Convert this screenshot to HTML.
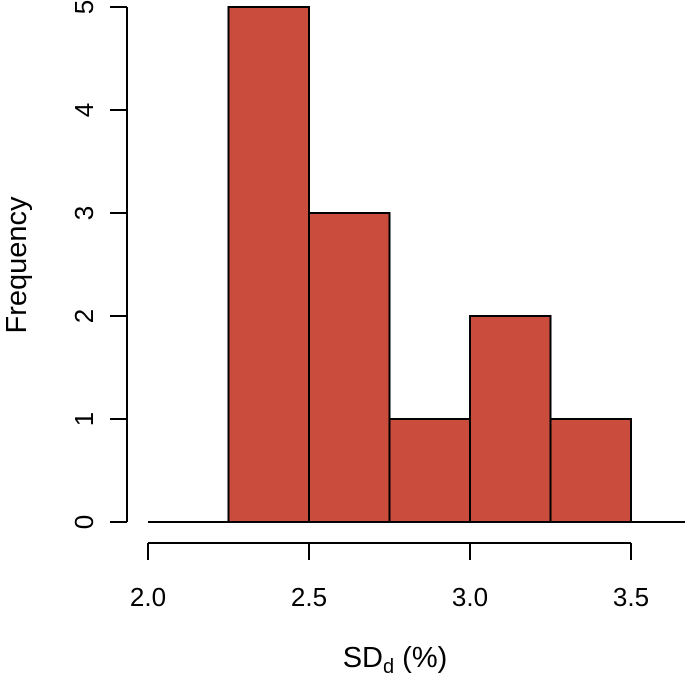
<!DOCTYPE html>
<html><head><meta charset="utf-8"><style>
html,body{margin:0;padding:0;background:#fff;}
svg{display:block;font-family:"Liberation Sans",Arial,sans-serif;}
</style></head><body>
<svg id="chart" width="685" height="674" viewBox="0 0 685 674">
<g id="bars"></g>
<line x1="148" y1="522" x2="685" y2="522" stroke="#000" stroke-width="2"/>
<g id="yaxis"></g>
<g id="xaxis"></g>
<text transform="translate(26,265) rotate(-90)" text-anchor="middle" font-size="29">Frequency</text>
<text x="395" y="667" text-anchor="middle" font-size="29">SD<tspan font-size="20" dy="6">d</tspan><tspan dy="-6"> (%)</tspan></text>
</svg>
<script>
const binStarts=[2.25,2.5,2.75,3.0,3.25];
const binWidth=0.25;
const counts=[5,3,1,2,1];
const yTicks=[0,1,2,3,4,5];
const xTicks=[2.0,2.5,3.0,3.5];
const xTickLabels=["2.0","2.5","3.0","3.5"];
const NS="http://www.w3.org/2000/svg";
const xs=v=>148+(v-2.0)*322;
const ys=v=>522-v*103;
function mk(t,a,p){const e=document.createElementNS(NS,t);for(const k in a)e.setAttribute(k,a[k]);p.appendChild(e);return e;}
const bars=document.getElementById('bars');
binStarts.forEach((b,i)=>{
 const r=mk('rect',{x:xs(b),y:ys(counts[i]),width:xs(b+binWidth)-xs(b),height:ys(0)-ys(counts[i]),fill:'#c94c3c',stroke:'#000','stroke-width':2},bars);
 
 
});
const ya=document.getElementById('yaxis');
mk('line',{x1:127,y1:ys(yTicks[0]),x2:127,y2:ys(yTicks[yTicks.length-1]),stroke:'#000','stroke-width':2},ya);
yTicks.forEach(t=>{
 mk('line',{x1:110,y1:ys(t),x2:127,y2:ys(t),stroke:'#000','stroke-width':2},ya);
 const tx=mk('text',{transform:`translate(93,${ys(t)}) rotate(-90)`,'text-anchor':'middle','font-size':26},ya);
 tx.textContent=t;
 
 
});
const xa=document.getElementById('xaxis');
mk('line',{x1:xs(xTicks[0]),y1:543,x2:xs(xTicks[xTicks.length-1]),y2:543,stroke:'#000','stroke-width':2},xa);
xTicks.forEach((t,i)=>{
 mk('line',{x1:xs(t),y1:543,x2:xs(t),y2:560,stroke:'#000','stroke-width':2},xa);
 const tx=mk('text',{x:xs(t),y:606,'text-anchor':'middle','font-size':26},xa);
 tx.textContent=xTickLabels[i];
 
 
});
</script>
</body></html>
